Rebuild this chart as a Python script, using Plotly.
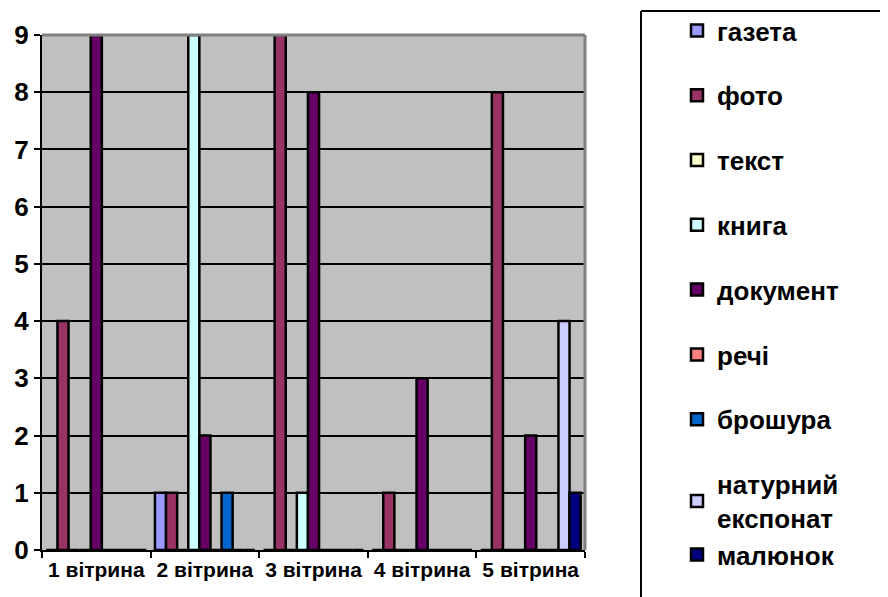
import plotly.graph_objects as go

categories = ["1 вітрина", "2 вітрина", "3 вітрина", "4 вітрина", "5 вітрина"]
series_names = ["газета", "фото", "текст", "книга", "документ", "речі", "брошура",
                "натурний<br>експонат", "малюнок"]
gazeta = [0, 1, 0, 0, 0]
foto = [4, 1, 9, 1, 8]
tekst = [0, 0, 0, 0, 0]
knyha = [0, 9, 1, 0, 0]
dokument = [9, 2, 8, 3, 2]
rechi = [0, 0, 0, 0, 0]
broshura = [0, 1, 0, 0, 0]
naturnyi = [0, 0, 0, 0, 4]
maliunok = [0, 0, 0, 0, 1]
series_values = [gazeta, foto, tekst, knyha, dokument, rechi, broshura, naturnyi, maliunok]
colors = ["#9999FF", "#993366", "#FFFFCC", "#CCFFFF", "#660066", "#FF8080", "#0066CC",
          "#CCCCFF", "#000080"]
legend_groups = ["g1", "g2", "g3", "g4", "g5", "g6", "g7", "g8", "g8"]
y_ticks = [0, 1, 2, 3, 4, 5, 6, 7, 8, 9]

fig = go.Figure()
for name, vals, col, grp in zip(series_names, series_values, colors, legend_groups):
    fig.add_trace(go.Bar(
        x=categories, y=vals, name=name, legendgroup=grp,
        marker=dict(color=col, line=dict(color="black", width=2.5)),
    ))

OFF = 8  # page body margin
W, H = 888 - OFF, 597 - OFF
L, R, T, B = 42 - OFF, 585 - OFF, 35 - OFF, 550 - OFF
pw, ph = R - L, B - T

def px_x(p):
    return (p - OFF - L) / pw

def px_y(p):
    return (B - (p - OFF)) / ph

fig.update_layout(
    width=W, height=H,
    margin=dict(l=L, r=W - R, t=T, b=H - B, autoexpand=False),
    paper_bgcolor="white",
    plot_bgcolor="#C0C0C0",
    barmode="group",
    bargap=0.08,
    bargroupgap=0.0,
    font=dict(family="Liberation Sans, Arial, sans-serif", color="black"),
    showlegend=True,
    legend=dict(
        x=px_x(677), y=px_y(7), xanchor="left", yanchor="top",
        xref="paper", yref="paper",
        font=dict(size=26, family="Liberation Sans, Arial", color="black", weight="bold"),
        tracegroupgap=28,
        bgcolor="rgba(0,0,0,0)",
        borderwidth=0,
        itemwidth=30,
        maxheight=700,
    ),
    shapes=[
        dict(type="line", xref="paper", yref="paper",
             x0=px_x(641), x1=px_x(930), y0=px_y(11), y1=px_y(11),
             line=dict(color="black", width=2)),
        dict(type="line", xref="paper", yref="paper",
             x0=px_x(641), x1=px_x(641), y0=px_y(640), y1=px_y(11),
             line=dict(color="black", width=2)),
        dict(type="line", xref="paper", yref="paper", x0=0, x1=1, y0=1, y1=1,
             line=dict(color="#808080", width=3)),
        dict(type="line", xref="paper", yref="paper", x0=1, x1=1, y0=0, y1=1,
             line=dict(color="#808080", width=3)),
    ],
)

fig.update_xaxes(
    type="category",
    showline=True, linecolor="black", linewidth=2,
    ticks="outside", tickson="boundaries", ticklen=6, tickcolor="black", tickwidth=2,
    tickfont=dict(size=21, family="Liberation Sans, Arial", color="black", weight="bold"),
    showgrid=False,
)
fig.update_yaxes(
    range=[0, 9],
    tickvals=y_ticks,
    showline=True, linecolor="black", linewidth=2,
    ticks="outside", ticklen=6, tickcolor="black", tickwidth=2,
    showgrid=True, gridcolor="black", gridwidth=1.5,
    zeroline=False,
    tickfont=dict(size=26, family="Liberation Sans, Arial", color="black", weight="bold"),
    mirror=False,
)

fig.write_html(
    "out.html",
    post_script="document.documentElement.style.overflow='hidden';document.body.style.overflow='hidden';",
)
